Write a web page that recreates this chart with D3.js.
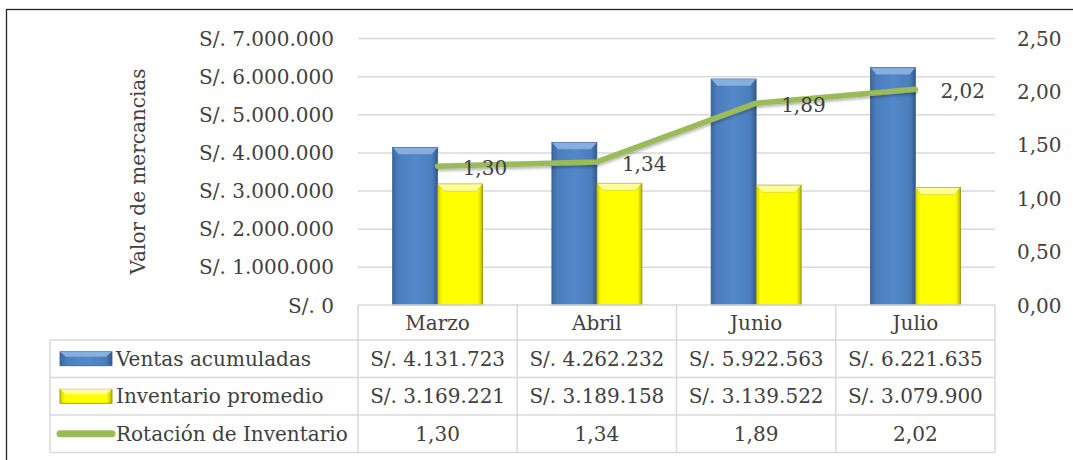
<!DOCTYPE html>
<html lang="es">
<head>
<meta charset="utf-8">
<title>Rotación de Inventario</title>
<script src="https://cdn.jsdelivr.net/npm/d3@7"></script>
<style>
    body { margin: 0; background: #fff; }
    svg text { font-family: "DejaVu Serif", "Liberation Serif", serif; fill: #404040; }
</style>
</head>
<body>
<svg id="chart" width="1073" height="460"></svg>
<script>
// data
var categories = ['Marzo', 'Abril', 'Junio', 'Julio'];
var ventas = [4131723, 4262232, 5922563, 6221635];
var inventario = [3169221, 3189158, 3139522, 3079900];
var rotacion = [1.30, 1.34, 1.89, 2.02];
var leftTicks = [0, 1000000, 2000000, 3000000, 4000000, 5000000, 6000000, 7000000];
var rightTicks = [0, 0.5, 1, 1.5, 2, 2.5];
var seriesNames = ['Ventas acumuladas', 'Inventario promedio', 'Rotación de Inventario'];

var locale = d3.formatLocale({decimal: ',', thousands: '.', grouping: [3], currency: ['S/. ', '']});
var fmtMoney = locale.format('$,.0f');
var fmtRatio = locale.format(',.2f');

var svg = d3.select('#chart');
var plot = {left: 358, right: 995, top: 38, bottom: 305};
var rowLines = [305, 340, 377.5, 415, 452.5];
var fontSize = 20;

var x0 = d3.scaleBand().domain(categories).range([plot.left, plot.right]);
var x1 = d3.scaleBand().domain([0, 1]).range([0, x0.bandwidth()]).paddingOuter(0.77);
var y = d3.scaleLinear().domain([0, 7000000]).range([plot.bottom, plot.top]);
var y2 = d3.scaleLinear().domain([0, 2.5]).range([plot.bottom, plot.top]);

// gradients
var defs = svg.append('defs');
function hGrad(id, stops) {
    var g = defs.append('linearGradient').attr('id', id).attr('x1', 0).attr('x2', 1).attr('y1', 0).attr('y2', 0);
    stops.forEach(function (s) {
        g.append('stop').attr('offset', s[0]).attr('stop-color', s[1]);
    });
}
hGrad('gBlue', [[0, '#3b679f'], [0.12, '#4b7dbb'], [0.5, '#5289cc'], [0.88, '#4b7dbb'], [1, '#32598a']]);
hGrad('gYellow', [[0, '#cfcf00'], [0.1, '#ffff00'], [0.9, '#ffff00'], [1, '#b8b800']]);
var shadow = defs.append('filter').attr('id', 'shadow').attr('x', '-10%').attr('y', '-50%').attr('width', '120%').attr('height', '200%');
shadow.append('feDropShadow').attr('dx', 0).attr('dy', 2).attr('stdDeviation', 1.5)
    .attr('flood-color', '#000').attr('flood-opacity', 0.3);

// outer border
svg.append('rect')
    .attr('x', 6.5).attr('y', 9.5).attr('width', 1100).attr('height', 500)
    .attr('fill', 'none').attr('stroke', '#262626').attr('stroke-width', 1.3);

// gridlines
svg.append('g')
    .attr('transform', 'translate(' + plot.left + ',0)')
    .call(d3.axisRight(y).tickValues(leftTicks.slice(1)).tickSize(plot.right - plot.left).tickFormat(''))
    .call(function (g) { g.select('.domain').remove(); })
    .selectAll('line').attr('stroke', '#d9d9d9').attr('stroke-width', 1.5);

// left axis labels
svg.append('g')
    .attr('transform', 'translate(334,0)')
    .call(d3.axisLeft(y).tickValues(leftTicks).tickSize(0).tickPadding(0).tickFormat(fmtMoney))
    .call(function (g) { g.select('.domain').remove(); })
    .selectAll('text').attr('font-size', fontSize).attr('font-family', null).attr('dy', '0.35em');

// right axis labels
svg.append('g')
    .attr('transform', 'translate(1017,0)')
    .call(d3.axisRight(y2).tickValues(rightTicks).tickSize(0).tickPadding(0).tickFormat(fmtRatio))
    .call(function (g) { g.select('.domain').remove(); })
    .selectAll('text').attr('font-size', fontSize).attr('font-family', null).attr('dy', '0.35em');

svg.selectAll('.tick text').style('fill', '#404040');

// axis title
svg.append('text')
    .attr('transform', 'translate(145,' + (plot.top + plot.bottom) / 2 + ') rotate(-90)')
    .attr('text-anchor', 'middle')
    .attr('font-size', fontSize)
    .text('Valor de mercancias');

// bars with a bevel on top
function drawBars(values, idx, fill, light, stroke) {
    var g = svg.append('g');
    values.forEach(function (v, i) {
        var bx = x0(categories[i]) + x1(idx);
        var bw = x1.bandwidth();
        var by = y(v);
        var bh = plot.bottom - by;
        g.append('rect')
            .attr('x', bx).attr('y', by).attr('width', bw).attr('height', bh)
            .attr('fill', fill).attr('stroke', stroke).attr('stroke-width', 0.8);
        g.append('path')
            .attr('d', 'M' + bx + ',' + by + 'H' + (bx + bw) + 'L' + (bx + bw - 6) + ',' + (by + 7) + 'H' + (bx + 6) + 'Z')
            .attr('fill', light).attr('stroke', stroke).attr('stroke-width', 0.5).attr('stroke-opacity', 0.5);
    });
}
drawBars(ventas, 0, 'url(#gBlue)', '#86aee0', '#365f92');
drawBars(inventario, 1, 'url(#gYellow)', '#ffff99', '#8c8c00');

// line
var line = d3.line()
    .x(function (d, i) { return x0(categories[i]) + x0.bandwidth() / 2; })
    .y(function (d) { return y2(d); });
svg.append('path')
    .datum(rotacion)
    .attr('d', line)
    .attr('fill', 'none')
    .attr('stroke', '#9bbb59')
    .attr('stroke-width', 5.5)
    .attr('stroke-linecap', 'round')
    .attr('stroke-linejoin', 'round')
    .attr('filter', 'url(#shadow)');

svg.append('g').selectAll('text')
    .data(rotacion)
    .enter().append('text')
    .attr('x', function (d, i) { return x0(categories[i]) + x0.bandwidth() / 2 + 25; })
    .attr('y', function (d) { return y2(d) + 2; })
    .attr('dy', '0.35em')
    .attr('font-size', fontSize)
    .text(fmtRatio);

// data table
var table = svg.append('g').attr('stroke', '#d9d9d9').attr('stroke-width', 1.5).attr('fill', 'none');
table.append('line').attr('x1', plot.left).attr('x2', plot.right).attr('y1', rowLines[0]).attr('y2', rowLines[0]);
rowLines.slice(1).forEach(function (ly) {
    table.append('line').attr('x1', 50).attr('x2', plot.right).attr('y1', ly).attr('y2', ly);
});
table.append('line').attr('x1', 50).attr('x2', 50).attr('y1', rowLines[1]).attr('y2', rowLines[4]);
x0.domain().forEach(function (c) {
    table.append('line').attr('x1', x0(c)).attr('x2', x0(c)).attr('y1', rowLines[0]).attr('y2', rowLines[4]);
});
table.append('line').attr('x1', plot.right).attr('x2', plot.right).attr('y1', rowLines[0]).attr('y2', rowLines[4]);

function rowMid(r) { return (rowLines[r] + rowLines[r + 1]) / 2; }

svg.append('g').selectAll('text')
    .data(categories)
    .enter().append('text')
    .attr('x', function (d) { return x0(d) + x0.bandwidth() / 2; })
    .attr('y', rowMid(0))
    .attr('dy', '0.35em')
    .attr('text-anchor', 'middle')
    .attr('font-size', fontSize)
    .text(function (d) { return d; });

var rows = [ventas.map(fmtMoney), inventario.map(fmtMoney), rotacion.map(fmtRatio)];
rows.forEach(function (vals, r) {
    svg.append('g').selectAll('text')
        .data(vals)
        .enter().append('text')
        .attr('x', function (d, i) { return x0(categories[i]) + x0.bandwidth() / 2; })
        .attr('y', rowMid(r + 1))
        .attr('dy', '0.35em')
        .attr('text-anchor', 'middle')
        .attr('font-size', fontSize)
        .text(function (d) { return d; });

    svg.append('text')
        .attr('x', 116)
        .attr('y', rowMid(r + 1))
        .attr('dy', '0.35em')
        .attr('font-size', fontSize)
        .text(seriesNames[r]);
});

// legend keys
function barKey(r, fill, light, stroke) {
    var ky = rowMid(r) - 7;
    svg.append('rect').attr('x', 60).attr('y', ky).attr('width', 52).attr('height', 14)
        .attr('fill', fill).attr('stroke', stroke).attr('stroke-width', 0.8);
    svg.append('path')
        .attr('d', 'M60,' + ky + 'H112L106,' + (ky + 5) + 'H66Z')
        .attr('fill', light);
}
barKey(1, 'url(#gBlue)', '#86aee0', '#365f92');
barKey(2, 'url(#gYellow)', '#ffff99', '#8c8c00');
svg.append('line')
    .attr('x1', 60).attr('x2', 112).attr('y1', rowMid(3)).attr('y2', rowMid(3))
    .attr('stroke', '#9bbb59').attr('stroke-width', 7).attr('stroke-linecap', 'round');
</script>
</body>
</html>
